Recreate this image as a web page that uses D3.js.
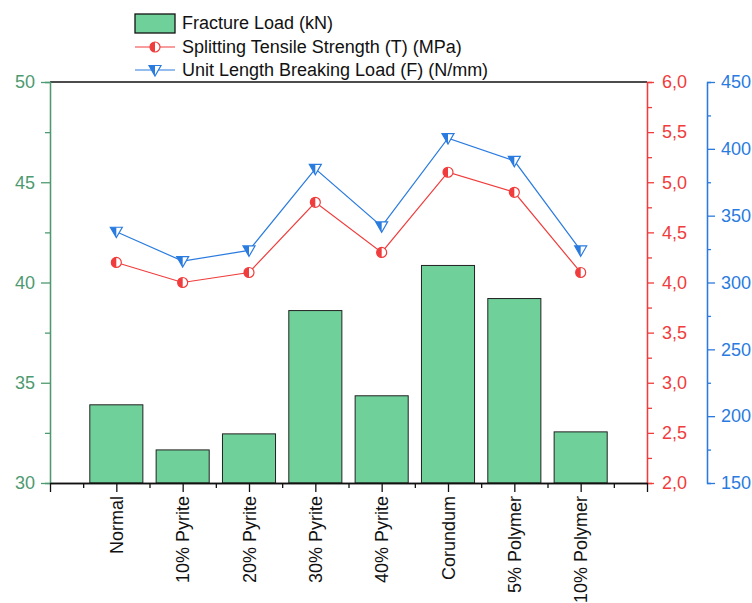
<!DOCTYPE html>
<html><head><meta charset="utf-8">
<script src="https://cdn.jsdelivr.net/npm/d3@7"></script>
<style>body{margin:0;background:#fff}svg{display:block;font-family:"Liberation Sans",Arial,sans-serif}</style>
</head><body><svg id="c" width="752" height="603"></svg>
<script>
const categories = ["Normal","10% Pyrite","20% Pyrite","30% Pyrite","40% Pyrite","Corundum","5% Polymer","10% Polymer"];
const fractureLoad = [33.9, 31.65, 32.45, 38.6, 34.35, 40.85, 39.2, 32.55];
const tensileStrength = [4.2, 4.0, 4.1, 4.8, 4.3, 5.1, 4.9, 4.1];
const breakingLoad = [338, 316, 324, 385, 342, 408, 391, 324];
const leftTicks = [30, 35, 40, 45, 50];
const redTicks = [2.0, 2.5, 3.0, 3.5, 4.0, 4.5, 5.0, 5.5, 6.0];
const blueTicks = [150, 200, 250, 300, 350, 400, 450];
const legendLabels = ["Fracture Load (kN)", "Splitting Tensile Strength (T) (MPa)", "Unit Length Breaking Load (F) (N/mm)"];

const GREEN = "#4e9a70", BAR = "#6fd09a", RED = "#f03c3c", BLUE = "#2a7be0";
const svg = d3.select("#c");
const L = 50, R = 647, T = 82, B = 483;

const x = d3.scaleLinear().domain([0, categories.length + 1]).range([L, R]);
const yL = d3.scaleLinear().domain([30, 50]).range([B, T]);
const yR = d3.scaleLinear().domain([2, 6]).range([B, T]);
const yB = d3.scaleLinear().domain([150, 450]).range([B, T]);
const slot = x(1) - x(0);
const bw = slot * 0.8;

// bars
svg.append("g").selectAll("rect").data(fractureLoad).join("rect")
  .attr("x", (d, i) => x(i + 1) - bw / 2).attr("width", bw)
  .attr("y", d => yL(d)).attr("height", d => B - yL(d))
  .attr("fill", BAR).attr("stroke", "#222").attr("stroke-width", 1);

// top frame
svg.append("line").attr("x1", L).attr("x2", R).attr("y1", T).attr("y2", T).attr("stroke", "#111").attr("stroke-width", 1.3);

function styleAxis(g, color, size) {
  g.selectAll("path").attr("stroke", color).attr("stroke-width", 1.3);
  g.selectAll("line").attr("stroke", color).attr("stroke-width", 1.3);
  g.selectAll("text").attr("fill", color).attr("font-size", size).attr("font-family", '"Liberation Sans",Arial,sans-serif');
}
function minor(vals, step) {
  const out = [];
  for (let i = 0; i < vals.length - 1; i++) out.push((vals[i] + vals[i + 1]) / 2);
  return out;
}

// left axis
const gL = svg.append("g").attr("transform", `translate(${L},0)`);
gL.append("g").call(d3.axisLeft(yL).tickValues(minor(leftTicks)).tickSize(5).tickFormat("")).call(g => styleAxis(g, GREEN, 18));
gL.append("g").call(d3.axisLeft(yL).tickValues(leftTicks).tickSize(9).tickSizeOuter(0).tickPadding(6)).call(g => styleAxis(g, GREEN, 18));

// red axis
const fmtR = v => d3.format(".1f")(v).replace(".", ",");
const gR = svg.append("g").attr("transform", `translate(${R},0)`);
gR.append("g").call(d3.axisRight(yR).tickValues(minor(redTicks)).tickSize(5).tickFormat("")).call(g => styleAxis(g, RED, 18));
gR.append("g").call(d3.axisRight(yR).tickValues(redTicks).tickSize(7).tickSizeOuter(0).tickPadding(8).tickFormat(fmtR)).call(g => styleAxis(g, RED, 18));

// blue axis
const gB = svg.append("g").attr("transform", `translate(707,0)`);
gB.append("g").call(d3.axisRight(yB).tickValues(minor(blueTicks)).tickSize(4).tickFormat("")).call(g => styleAxis(g, BLUE, 18));
gB.append("g").call(d3.axisRight(yB).tickValues(blueTicks).tickSize(8).tickSizeOuter(0).tickPadding(6)).call(g => styleAxis(g, BLUE, 18));

// bottom axis
const xMaj = d3.range(0, categories.length + 2);
const xMin = d3.range(0, categories.length + 1).map(v => v + 0.5);
const gX = svg.append("g").attr("transform", `translate(0,${B})`);
gX.append("g").call(d3.axisBottom(x).tickValues(xMin).tickSize(5).tickFormat("").tickSizeOuter(0)).call(g => styleAxis(g, "#111", 18));
gX.append("g").call(d3.axisBottom(x).tickValues(xMaj).tickSize(9).tickSizeOuter(0)
  .tickFormat(v => (v >= 1 && v <= categories.length) ? categories[v - 1] : "")).call(g => styleAxis(g, "#111", 18));
gX.selectAll("text").attr("transform", "rotate(-90)").attr("text-anchor", "end")
  .attr("dy", "0.35em").attr("x", -13).attr("y", 0);

// markers
function halfCircle(g, cx, cy, r) {
  g.append("circle").attr("cx", cx).attr("cy", cy).attr("r", r).attr("fill", "#fff").attr("stroke", RED).attr("stroke-width", 1.2);
  g.append("path").attr("d", `M${cx},${cy - r} A${r},${r} 0 0,0 ${cx},${cy + r} Z`).attr("fill", RED);
}
function halfTri(g, cx, cy, s) {
  const h = s * 0.87;
  const top = cy - h / 3, bot = cy + 2 * h / 3;
  g.append("path").attr("d", `M${cx - s / 2},${top} L${cx + s / 2},${top} L${cx},${bot} Z`).attr("fill", "#fff").attr("stroke", BLUE).attr("stroke-width", 1.2);
  g.append("path").attr("d", `M${cx - s / 2},${top} L${cx},${top} L${cx},${bot} Z`).attr("fill", BLUE);
}

const lineR = d3.line().x((d, i) => x(i + 1)).y(d => yR(d));
const lineB = d3.line().x((d, i) => x(i + 1)).y(d => yB(d));
svg.append("path").attr("d", lineB(breakingLoad)).attr("fill", "none").attr("stroke", BLUE).attr("stroke-width", 1.2);
svg.append("path").attr("d", lineR(tensileStrength)).attr("fill", "none").attr("stroke", RED).attr("stroke-width", 1.2);
const gm = svg.append("g");
breakingLoad.forEach((d, i) => halfTri(gm, x(i + 1), yB(d) - 1, 12));
tensileStrength.forEach((d, i) => halfCircle(gm, x(i + 1), yR(d), 5));

// legend
const lg = svg.append("g");
const lx = 135, ly = [23, 47, 70];
lg.append("rect").attr("x", lx).attr("y", 14).attr("width", 40).attr("height", 19).attr("fill", BAR).attr("stroke", "#111").attr("stroke-width", 1.3);
lg.append("line").attr("x1", lx).attr("x2", lx + 40).attr("y1", ly[1]).attr("y2", ly[1]).attr("stroke", RED).attr("stroke-width", 1.2);
halfCircle(lg, lx + 20, ly[1], 5);
lg.append("line").attr("x1", lx).attr("x2", lx + 40).attr("y1", ly[2]).attr("y2", ly[2]).attr("stroke", BLUE).attr("stroke-width", 1.2);
halfTri(lg, lx + 20, ly[2] - 1, 12);
legendLabels.forEach((t, i) => lg.append("text").attr("x", 182).attr("y", ly[i]).attr("dy", "0.35em")
  .attr("font-size", 18).attr("fill", "#111").text(t));
</script></body></html>
